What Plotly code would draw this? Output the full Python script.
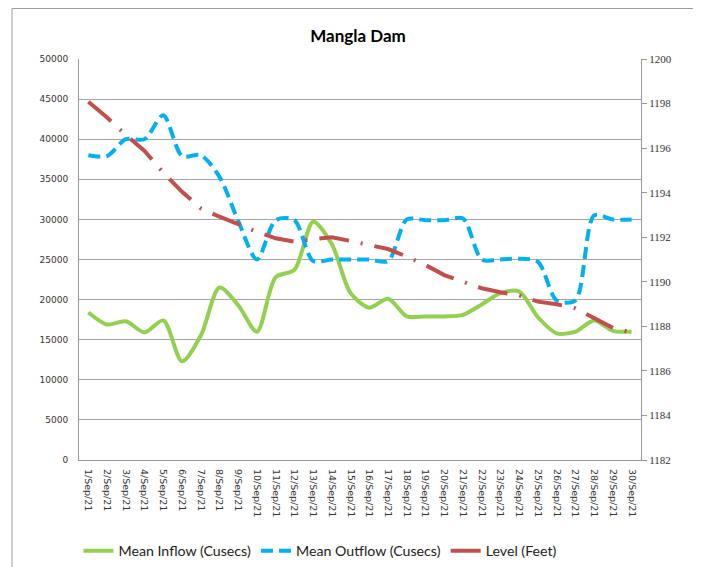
import plotly.graph_objects as go

dates = [f"{d}/Sep/21" for d in range(1, 31)]

inflow = [18400, 16900, 17300, 15900, 17400, 12300, 15500, 21500, 19300, 16000,
          22800, 23700, 29700, 26900, 20800, 19000, 20100, 17900, 17900, 17900,
          18100, 19400, 20800, 21000, 17800, 15800, 16000, 17400, 16100, 16000]

outflow = [38000, 37900, 40000, 40000, 43000, 37900, 38000, 35300, 29800, 25000,
           29900, 29900, 24800, 25000, 25000, 25000, 24800, 30000, 29900, 29900,
           30100, 25000, 25000, 25100, 24700, 19900, 19900, 30500, 30000, 30000]

level = [1198.08, 1197.37, 1196.59, 1195.87, 1194.90, 1194.04, 1193.30, 1192.92, 1192.59, 1192.24,
         1191.95, 1191.80, 1191.91, 1192.00, 1191.83, 1191.66, 1191.47, 1191.13, 1190.75, 1190.30,
         1190.00, 1189.71, 1189.53, 1189.39, 1189.11, 1188.99, 1188.81, 1188.36, 1187.93, 1187.72]

left_ticks = list(range(0, 50001, 5000))
left_labels = [str(v) for v in left_ticks]
right_ticks = list(range(1182, 1201, 2))
right_labels = [str(v) for v in right_ticks]

GREEN = "#92D050"
BLUE = "#00B0F0"
RED = "#C0504D"
GRID = "#A6A6A6"

# page body has an 8px margin, so figure coords = screen coords - 8
L, T, PW, PH = 71, 51, 562, 401

fig = go.Figure()
fig.add_trace(go.Scatter(x=dates, y=inflow, name="Mean Inflow (Cusecs)", mode="lines",
                         line=dict(color=GREEN, width=4, shape="spline", smoothing=0.8)))
fig.add_trace(go.Scatter(x=dates, y=outflow, name="Mean Outflow (Cusecs)", mode="lines",
                         line=dict(color=BLUE, width=4, shape="spline", smoothing=0.8,
                                   dash="12px,6px")))
fig.add_trace(go.Scatter(x=dates, y=level, name="Level (Feet)", mode="lines", yaxis="y2",
                         line=dict(color=RED, width=4, dash="30px,12px,2px,12px")))

fig.update_layout(
    width=701, height=567,
    margin=dict(l=L, r=701 - L - PW, t=T, b=567 - T - PH, autoexpand=False),
    paper_bgcolor="white", plot_bgcolor="white",
    title=dict(text="<b>Mangla Dam</b>", x=(L + 279) / 701, xanchor="center",
               y=1 - 22 / 567, yanchor="top",
               font=dict(family="Lato, Open Sans, sans-serif", size=17, color="black")),
    xaxis=dict(type="category", range=[-0.5, 29.5], tickangle=90, showgrid=False,
               showline=True, linecolor="#999999", linewidth=1, ticks="", ticklabelstandoff=6,
               automargin=False,
               tickfont=dict(family="DejaVu Sans", size=9.5, color="#333333")),
    yaxis=dict(range=[0, 50000], tickvals=left_ticks, ticktext=left_labels,
               showgrid=True, gridcolor=GRID, gridwidth=1,
               showline=True, linecolor="#999999", linewidth=1, ticks="", ticklabelstandoff=8,
               zeroline=False, automargin=False,
               tickfont=dict(family="DejaVu Sans", size=9, color="#333333")),
    yaxis2=dict(range=[1182, 1200], tickvals=right_ticks, ticktext=right_labels,
                overlaying="y", side="right",
                showgrid=False, showline=True, linecolor="#999999", linewidth=1,
                ticks="outside", ticklen=5, tickcolor="#999999", zeroline=False, automargin=False,
                tickfont=dict(family="Liberation Serif", size=11, color="#333333")),
    showlegend=True,
    legend=dict(orientation="h", x=-0.001, xanchor="left", y=-91 / PH, yanchor="middle",
                font=dict(family="Lato, Open Sans, sans-serif", size=14.2, color="#222222"),
                traceorder="normal", bgcolor="rgba(0,0,0,0)"),
    shapes=[dict(type="rect", xref="paper", yref="paper",
                 x0=(4 - L) / PW, x1=(692 - L) / PW,
                 y0=(PH + T - 620) / PH, y1=(PH + T - 0.5) / PH,
                 line=dict(color="#A0A0A0", width=1), layer="below")],
)

fig.write_html("out.html")
